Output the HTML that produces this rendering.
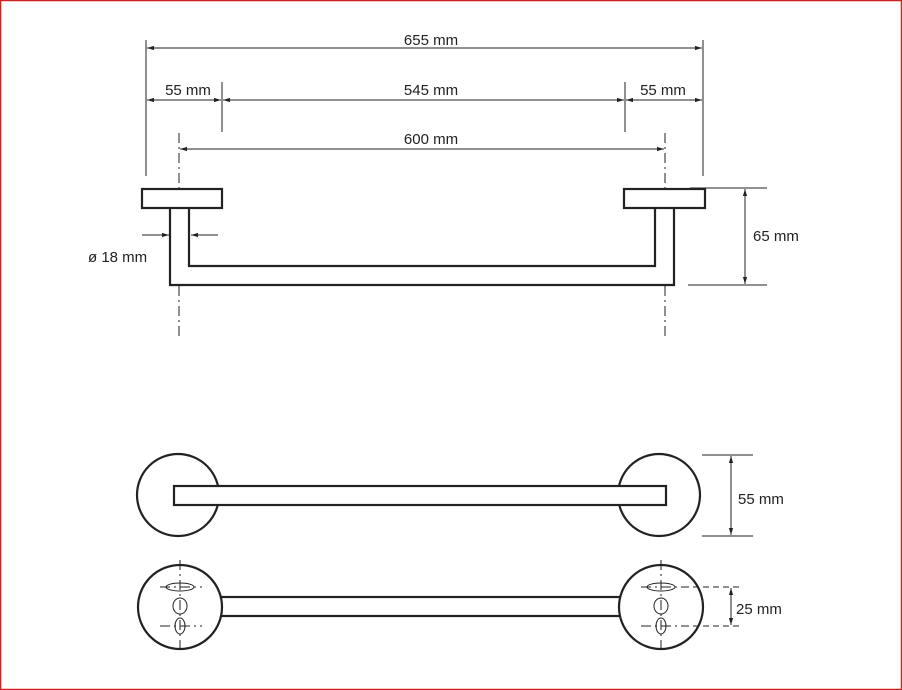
<!DOCTYPE html>
<html><head><meta charset="utf-8"><style>
html,body{margin:0;padding:0;background:#fff}
svg{display:block}
text{font-family:"Liberation Sans",sans-serif;font-size:15px;fill:#222}
</style></head><body>
<svg width="902" height="690" viewBox="0 0 902 690" xmlns="http://www.w3.org/2000/svg">
<defs>
<marker id="a" viewBox="0 0 10 10" refX="10" refY="5" markerWidth="7" markerHeight="7" orient="auto-start-reverse"><path d="M0,2 L10,5 L0,8 z" fill="#222"/></marker>
</defs>
<rect x="0.5" y="0.5" width="901" height="689" fill="#fff" stroke="#d02020" stroke-width="1.5"/>
<g stroke="#222" stroke-width="1" fill="none">
<line x1="146" y1="40" x2="146" y2="176"/>
<line x1="703" y1="40" x2="703" y2="176"/>
<line x1="222" y1="82" x2="222" y2="132"/>
<line x1="625" y1="82" x2="625" y2="132"/>
<line x1="147" y1="48" x2="702" y2="48" marker-start="url(#a)" marker-end="url(#a)"/>
<line x1="147" y1="100" x2="221" y2="100" marker-start="url(#a)" marker-end="url(#a)"/>
<line x1="223" y1="100" x2="624" y2="100" marker-start="url(#a)" marker-end="url(#a)"/>
<line x1="626" y1="100" x2="702" y2="100" marker-start="url(#a)" marker-end="url(#a)"/>
<line x1="180" y1="149" x2="664" y2="149" marker-start="url(#a)" marker-end="url(#a)"/>
<line x1="179" y1="133" x2="179" y2="189" stroke-dasharray="10,4,2,4"/>
<line x1="665" y1="133" x2="665" y2="189" stroke-dasharray="10,4,2,4"/>
<line x1="179" y1="286" x2="179" y2="336" stroke-dasharray="10,4,2,4"/>
<line x1="665" y1="286" x2="665" y2="336" stroke-dasharray="10,4,2,4"/>
<line x1="142" y1="235" x2="169" y2="235" marker-end="url(#a)"/>
<line x1="218" y1="235" x2="191" y2="235" marker-end="url(#a)"/>
<line x1="690" y1="188" x2="767" y2="188"/>
<line x1="688" y1="285" x2="767" y2="285"/>
<line x1="745" y1="189" x2="745" y2="284" marker-start="url(#a)" marker-end="url(#a)"/>
<line x1="702" y1="455" x2="753" y2="455"/>
<line x1="702" y1="536" x2="753" y2="536"/>
<line x1="731" y1="456" x2="731" y2="535" marker-start="url(#a)" marker-end="url(#a)"/>
<line x1="731" y1="588" x2="731" y2="625" marker-start="url(#a)" marker-end="url(#a)"/>
</g>
<g stroke="#222" stroke-width="2.2" fill="#fff">
<path d="M170 208 V285 H674 V208 M189 208 V266 H655 V208" fill="none"/>
<rect x="142" y="189" width="80" height="19"/>
<rect x="624" y="189" width="81" height="19"/>
<circle cx="178" cy="495" r="41"/>
<circle cx="659" cy="495" r="41"/>
<rect x="174" y="486" width="492" height="19"/>
<rect x="215" y="597" width="410" height="19"/>
<circle cx="180" cy="607" r="42"/>
<circle cx="661" cy="607" r="42"/>
</g>
<g stroke="#222" stroke-width="1" fill="none">
<g id="h">
<line x1="180" y1="560" x2="180" y2="648" stroke-dasharray="10,4,2,4"/>
<line x1="160" y1="587" x2="202" y2="587" stroke-dasharray="10,4,2,4"/>
<line x1="160" y1="626" x2="202" y2="626" stroke-dasharray="10,4,2,4"/>
<ellipse cx="180" cy="587" rx="14" ry="4"/>
<ellipse cx="180" cy="606" rx="7" ry="8"/>
<ellipse cx="180" cy="626" rx="5" ry="8"/>
</g>
<use href="#h" x="481"/>
<line x1="683" y1="587" x2="740" y2="587" stroke-dasharray="6,4"/>
<line x1="683" y1="626" x2="740" y2="626" stroke-dasharray="6,4"/>
</g>
<text x="431" y="45" text-anchor="middle">655 mm</text>
<text x="188" y="95" text-anchor="middle">55 mm</text>
<text x="431" y="95" text-anchor="middle">545 mm</text>
<text x="663" y="95" text-anchor="middle">55 mm</text>
<text x="431" y="144" text-anchor="middle">600 mm</text>
<text x="88" y="262">ø 18 mm</text>
<text x="753" y="241">65 mm</text>
<text x="738" y="504">55 mm</text>
<text x="736" y="614">25 mm</text>
</svg>
</body></html>
